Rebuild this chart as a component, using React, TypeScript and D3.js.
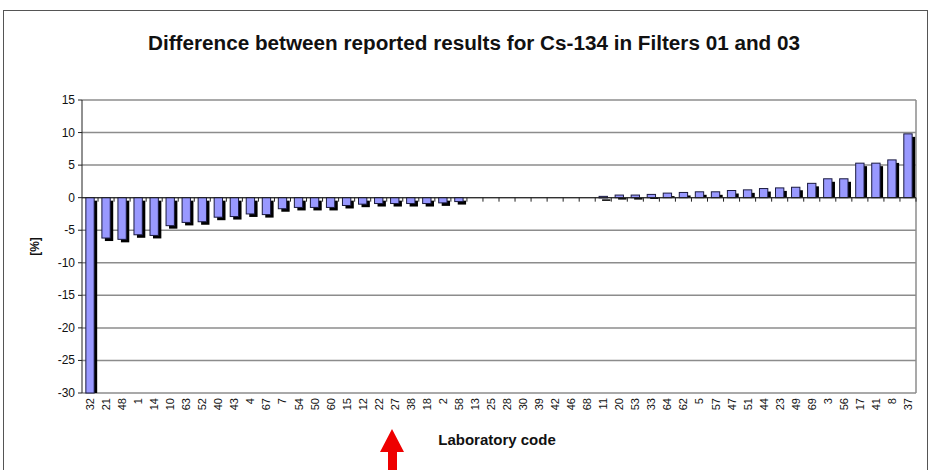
import React from 'react'
import { scaleBand, scaleLinear } from 'd3'

const labCodes = ['32','21','48','1','14','10','63','52','40','43','4','67','7','54','50','60','15','12','22','27','38','18','2','58','13','25','28','30','39','42','46','68','11','20','53','33','64','62','5','57','47','51','44','23','49','69','3','56','17','41','8','37']
const diffs = [-30,-6.2,-6.4,-5.7,-5.8,-4.3,-3.8,-3.7,-3.0,-2.9,-2.5,-2.6,-1.7,-1.5,-1.5,-1.5,-1.2,-1.0,-0.9,-0.9,-0.9,-0.9,-0.8,-0.6,0,0,0,0,0,0,0,0,0.2,0.4,0.4,0.5,0.7,0.8,0.9,0.9,1.1,1.2,1.4,1.5,1.6,2.2,2.9,2.9,5.3,5.3,5.8,9.8]
const yTicks = [15,10,5,0,-5,-10,-15,-20,-25,-30]

const W = 930, H = 470
const left = 82, right = 916, top = 100, bottom = 393
const font = 'Liberation Sans, Arial, sans-serif'
const narrow = 'Liberation Sans Narrow, Arial Narrow, Liberation Sans, sans-serif'

export default function App() {
  const x = scaleBand<string>().domain(labCodes).range([left, right]).paddingInner(0.48).paddingOuter(0.24)
  const y = scaleLinear().domain([-30, 15]).range([bottom, top])
  const step = x.step()
  const bw = x.bandwidth()
  const sh = 3

  return (
    <svg width={W} height={H} style={{ position: 'absolute', left: 0, top: 0 }}>
      <rect x={0} y={0} width={W} height={H} fill="#fff" />
      <rect x={3.5} y={10.5} width={W - 6} height={H + 10} fill="#fff" stroke="#555" strokeWidth={1} />
      <text x={474} y={50} textAnchor="middle" fontFamily={narrow} fontWeight="bold" fontSize={20} fill="#111"
        textLength={652} lengthAdjust="spacingAndGlyphs">
        Difference between reported results for Cs-134 in Filters 01 and 03
      </text>

      {/* grid */}
      {yTicks.map(t => (
        <line key={t} x1={left} x2={right} y1={y(t)} y2={y(t)} stroke="#8c8c8c" strokeWidth={1.5} />
      ))}
      <line x1={right} x2={right} y1={top} y2={bottom} stroke="#8c8c8c" strokeWidth={1.5} />

      {/* y axis */}
      <line x1={left} x2={left} y1={top} y2={bottom} stroke="#222" strokeWidth={1} />
      {yTicks.map(t => (
        <g key={'t' + t}>
          <line x1={left - 4} x2={left} y1={y(t)} y2={y(t)} stroke="#222" />
          <text x={left - 7} y={y(t) + 4} textAnchor="end" fontFamily={font} fontSize={12} fill="#111">{t}</text>
        </g>
      ))}
      <text transform={`translate(39,${y(-7.5)}) rotate(-90)`} textAnchor="middle" fontFamily={font} fontWeight="bold" fontSize={12} fill="#111">[%]</text>

      {/* bars */}
      {labCodes.map((c, i) => {
        const v = diffs[i]
        if (v === 0) return null
        const y0 = Math.min(y(v), y(0))
        const h = Math.abs(y(v) - y(0))
        const bx = x(c) as number
        const shY = y0 + sh
        const shH = v > 0 ? Math.max(h - sh, 1.5) : Math.min(h, bottom - shY)
        return (
          <g key={c}>
            <rect x={bx + sh} y={shY} width={bw} height={Math.max(shH, 1.5)} fill="#000" />
            <rect x={bx} y={y0} width={bw} height={Math.max(h, 1.5)} fill="#9999ff" stroke="#1a1a40" strokeWidth={1} />
          </g>
        )
      })}

      {/* x axis at zero */}
      <line x1={left} x2={right} y1={y(0)} y2={y(0)} stroke="#222" strokeWidth={1} />
      {labCodes.map((c, i) => (
        <line key={'xt' + c} x1={left + step * (i + 1)} x2={left + step * (i + 1)} y1={y(0)} y2={y(0) + 4} stroke="#222" />
      ))}
      {labCodes.map(c => (
        <text key={'xl' + c} transform={`translate(${(x(c) as number) + bw / 2 + 4},${bottom + 5}) rotate(-90)`} textAnchor="end" fontFamily={font} fontSize={11} fill="#111">{c}</text>
      ))}
      <text x={497} y={445} textAnchor="middle" fontFamily={narrow} fontWeight="bold" fontSize={15} fill="#111">Laboratory code</text>

      {/* red arrow */}
      <path d="M392,429 L404,452 L397,452 L397,470 L388,470 L388,452 L380,452 Z" fill="#ee0000" />
    </svg>
  )
}
